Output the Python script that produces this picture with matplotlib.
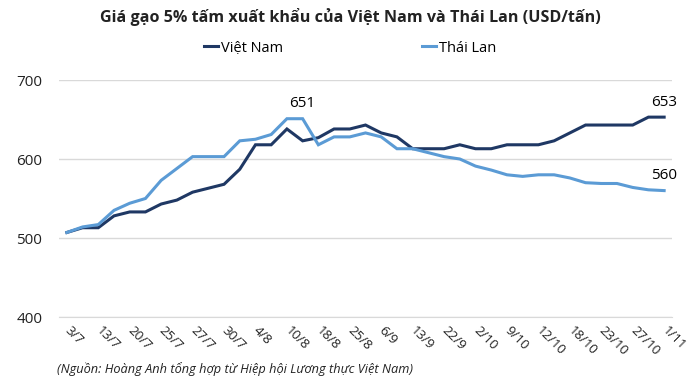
import matplotlib.pyplot as plt

plt.rcParams['font.family'] = ['Open Sans', 'DejaVu Sans']

# dữ liệu (USD/tấn), 39 phiên, nhãn trục mỗi 2 phiên
tick_labels = ["3/7", "13/7", "20/7", "25/7", "27/7", "30/7", "4/8", "10/8", "18/8", "25/8",
               "6/9", "13/9", "22/9", "2/10", "9/10", "12/10", "18/10", "23/10", "27/10", "1/11"]

viet_nam = [507, 513, 513, 528, 533, 533, 543, 548, 558, 563,
            568, 587, 618, 618, 638, 623, 627, 638, 638, 643,
            633, 628, 613, 613, 613, 618, 613, 613, 618, 618,
            618, 623, 633, 643, 643, 643, 643, 653, 653]

thai_lan = [507, 514, 517, 535, 544, 550, 573, 588, 603, 603,
            603, 623, 625, 631, 651, 651, 618, 628, 628, 633,
            628, 613, 613, 608, 603, 600, 591, 586, 580, 578,
            580, 580, 576, 570, 569, 569, 564, 561, 560]

x = list(range(len(viet_nam)))

fig = plt.figure(figsize=(7, 3.87), dpi=100)
ax = fig.add_axes([59/700, 1 - 317/387, (672 - 59)/700, (317 - 80)/387])

ax.plot(x, viet_nam, color="#1F3864", lw=2.2, label="Việt Nam", solid_joinstyle="miter")
ax.plot(x, thai_lan, color="#5B9BD5", lw=2.2, label="Thái Lan", solid_joinstyle="miter")

ax.set_xlim(-0.5, len(x) - 0.5)
ax.set_ylim(400, 700)
ax.set_yticks([400, 500, 600, 700])
ax.set_axisbelow(True)
for s in ax.spines.values():
    s.set_visible(False)
# đường lưới ngang, kể cả đường đáy 400
ax.spines["bottom"].set_visible(True)
ax.spines["bottom"].set_color("#d9d9d9")
ax.grid(axis="y", color="#d9d9d9", lw=1)
ax.tick_params(axis="y", length=0, pad=12, labelsize=11, labelcolor="#222222")
ax.tick_params(axis="x", length=0, pad=8, labelsize=9.5, labelcolor="#222222")

ax.set_xticks(x[::2])
ax.set_xticklabels(tick_labels, rotation=-45, ha="left", va="center", rotation_mode="anchor")

# nhãn giá trị
ax.annotate("651", (15, thai_lan[15]), xytext=(0, 15), textcoords="offset pixels",
            ha="center", va="center", fontsize=11)
ax.annotate("653", (38, viet_nam[38]), xytext=(0, 15), textcoords="offset pixels",
            ha="center", va="center", fontsize=11)
ax.annotate("560", (38, thai_lan[38]), xytext=(0, 15), textcoords="offset pixels",
            ha="center", va="center", fontsize=11)

fig.text(0.5, 1 - 17/387, "Giá gạo 5% tấm xuất khẩu của Việt Nam và Thái Lan (USD/tấn)",
         ha="center", va="center", fontsize=11.6, fontweight="bold", color="#222222")

fig.legend(loc="center", bbox_to_anchor=(0.5, 1 - 48/387), ncol=2, frameon=False,
           fontsize=10.5, handlelength=1.0, handletextpad=0.2, columnspacing=9.5)

fig.text(57/700, 1 - 369/387, "(Nguồn: Hoàng Anh tổng hợp từ Hiệp hội Lương thực Việt Nam)",
         ha="left", va="center", fontsize=9.2, style="italic", color="#222222")

fig.savefig("out.png", dpi=100)
